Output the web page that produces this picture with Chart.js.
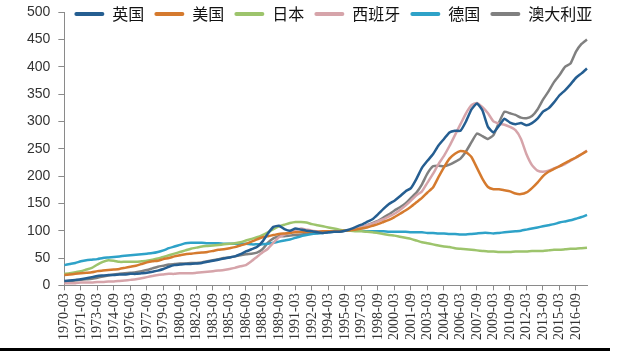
<!DOCTYPE html>
<html><head><meta charset="utf-8">
<script src="https://cdn.jsdelivr.net/npm/chart.js@4"></script>
<style>
html,body{margin:0;padding:0;background:#fff;}
#wrap{position:relative;width:627px;height:351px;overflow:hidden;}
#bar{position:absolute;left:0;top:348px;width:610px;height:3px;background:#000;}
#pre{position:absolute;left:-999px;top:0;}
</style></head><body>
<div id="pre"><span style="font-family:'Liberation Serif'">1970-03</span><span style="font-family:'Liberation Sans'">500</span><span style="font-family:'Noto Sans CJK SC'">英国</span></div>
<div id="wrap"><canvas id="c" width="627" height="351"></canvas><div id="bar"></div></div>
<script>
const categories = [
'1970-03','1970-09','1971-03','1971-09','1972-03','1972-09','1973-03','1973-09','1974-03','1974-09',
'1975-03','1975-09','1976-03','1976-09','1977-03','1977-09','1978-03','1978-09','1979-03','1979-09',
'1980-03','1980-09','1981-03','1981-09','1982-03','1982-09','1983-03','1983-09','1984-03','1984-09',
'1985-03','1985-09','1986-03','1986-09','1987-03','1987-09','1988-03','1988-09','1989-03','1989-09',
'1990-03','1990-09','1991-03','1991-09','1992-03','1992-09','1993-03','1993-09','1994-03','1994-09',
'1995-03','1995-09','1996-03','1996-09','1997-03','1997-09','1998-03','1998-09','1999-03','1999-09',
'2000-03','2000-09','2001-03','2001-09','2002-03','2002-09','2003-03','2003-09','2004-03','2004-09',
'2005-03','2005-09','2006-03','2006-09','2007-03','2007-09','2008-03','2008-09','2009-03','2009-09',
'2010-03','2010-09','2011-03','2011-09','2012-03','2012-09','2013-03','2013-09','2014-03','2014-09',
'2015-03','2015-09','2016-03','2016-09','2017-03','2017-09'];

const tickLabels = ['1970-03','1971-09','1973-03','1974-09','1976-03','1977-09','1979-03','1980-09',
'1982-03','1983-09','1985-03','1986-09','1988-03','1989-09','1991-03','1992-09','1994-03','1995-09',
'1997-03','1998-09','2000-03','2001-09','2003-03','2004-09','2006-03','2007-09','2009-03','2010-09',
'2012-03','2013-09','2015-03','2016-09'];

const seriesNames = ['英国','美国','日本','西班牙','德国','澳大利亚'];

const uk = [8,9,10,11,13,15,17,18,19,19,
20,20,21,21,22,23,25,27,30,34,
37,38,39,39,40,41,43,45,47,49,
51,53,57,62,66,70,80,95,107,109,
103,100,104,102,100,99,97,96,97,98,
98,100,103,107,111,116,121,130,140,149,
155,163,172,178,195,215,228,240,256,268,
280,283,283,300,322,333,320,290,280,292,
305,298,295,297,293,297,305,318,324,335,
348,357,368,380,388,397];

const us = [19,20,21,22,23,24,26,27,28,29,
30,32,34,36,39,42,44,45,48,50,
53,55,57,58,59,60,61,63,65,66,
68,70,73,76,80,84,88,90,92,94,
95,96,97,98,98,98,98,99,99,99,
99,100,101,102,104,106,109,112,116,120,
125,131,137,144,152,160,170,179,198,216,
232,241,246,244,235,215,195,180,176,176,
174,172,168,167,170,178,188,200,208,213,
218,224,229,234,240,246];

const japan = [21,22,24,26,29,32,38,43,46,45,
43,43,43,43,44,45,47,49,52,55,
58,61,64,67,69,71,72,73,74,75,
76,77,79,82,85,88,92,97,103,108,
111,114,116,116,115,112,110,108,106,104,
102,100,100,99,99,98,97,96,94,92,
91,89,87,85,82,79,77,75,73,71,
70,68,67,66,65,64,63,62,62,61,
61,61,62,62,62,63,63,63,64,65,
65,66,67,67,68,69];

const spain = [4,4,4,5,5,5,6,6,7,7,
8,9,10,11,13,15,17,19,20,21,
21,22,22,22,23,24,25,26,27,28,
30,32,35,37,44,52,60,67,78,88,
93,97,101,104,102,100,99,98,98,99,
99,100,101,103,106,110,113,117,121,126,
131,138,146,155,165,172,188,204,222,237,
255,275,295,315,330,334,326,315,300,296,
294,290,284,268,240,220,210,208,210,214,
218,222,228,234,240,247];

const germany = [37,39,41,44,46,47,48,50,51,52,
53,54,55,56,57,58,59,61,64,68,
71,74,77,78,78,78,77,77,77,76,
76,76,76,76,75,75,75,76,78,80,
82,84,87,90,92,94,95,96,97,98,
99,100,100,100,100,99,99,99,99,98,
98,98,98,97,97,97,96,96,95,95,
94,94,93,93,94,95,96,96,95,96,
97,98,99,100,102,104,106,108,110,112,
115,117,119,122,125,129];

const australia = [7,8,9,10,11,12,14,16,18,20,
21,22,23,24,26,28,31,34,36,38,
39,40,40,41,41,42,44,46,48,50,
51,53,55,57,58,60,66,78,86,90,
90,91,92,93,94,95,96,97,98,98,
99,100,101,103,106,110,114,118,124,130,
137,143,150,160,170,185,205,218,219,218,
221,226,232,245,262,278,273,268,275,298,
318,315,312,307,306,310,322,340,355,372,
385,400,406,428,442,450];

const colors = ['#255E91','#D57A2E','#9DC46C','#D6A4AA','#2EA2C8','#808080'];
const seriesData = [uk, us, japan, spain, germany, australia];

const datasets = seriesNames.map((name, k) => ({
  label: name,
  data: seriesData[k],
  borderColor: colors[k],
  backgroundColor: colors[k],
  borderWidth: 2.5,
  pointRadius: 0,
  pointHoverRadius: 0,
  pointBorderWidth: 0,
  tension: 0.15,
  fill: false
}));

const legendMove = {
  id: 'legendMove',
  afterLayout(chart) {
    const lg = chart.legend;
    if (!lg) return;
    lg.isHorizontal = () => true;
    lg.update(2000, 200, {left: 0, top: 0, right: 0, bottom: 0});
    lg.left = chart.chartArea.left;
    lg.right = 2000;
    lg.top = -4;
    lg.bottom = lg.top + lg.height;
  }
};

new Chart(document.getElementById('c'), {
  type: 'line',
  data: { labels: categories, datasets },
  plugins: [legendMove],
  options: {
    responsive: false,
    animation: false,
    devicePixelRatio: 1,
    layout: { padding: { left: 19, right: 40, top: 9, bottom: 8 } },
    plugins: {
      tooltip: { enabled: false },
      legend: {
        position: 'chartArea',
        align: 'start',
        labels: {
          boxWidth: 30,
          boxHeight: 4,
          padding: 10,
          color: '#111',
          font: { family: '"Noto Sans CJK SC"', size: 16 },
          generateLabels(chart) {
            const items = Chart.defaults.plugins.legend.labels.generateLabels(chart);
            return items.map(it => Object.assign(it, { fillStyle: colors[it.datasetIndex], lineWidth: 0, borderRadius: 2 }));
          }
        }
      }
    },
    scales: {
      x: {
        type: 'category',
        offset: false,
        grid: {
          drawOnChartArea: false,
          drawTicks: true,
          tickLength: 5,
          tickColor: (ctx) => (tickLabels.includes(categories[ctx.index]) ? '#8a8a8a' : 'rgba(0,0,0,0)')
        },
        border: { color: '#8a8a8a', width: 1 },
        ticks: {
          autoSkip: false,
          minRotation: 90,
          maxRotation: 90,
          padding: 3,
          color: '#333',
          font: { family: '"Liberation Serif", "Times New Roman", serif', size: 14 },
          callback(value, index) {
            const lab = categories[index];
            return tickLabels.includes(lab) ? lab : '';
          }
        }
      },
      y: {
        min: 0,
        max: 500,
        grid: { drawOnChartArea: false, drawTicks: true, tickLength: 6, color: '#8a8a8a' },
        border: { color: '#8a8a8a', width: 1 },
        ticks: {
          stepSize: 50,
          padding: 8,
          color: '#333',
          font: { family: '"Liberation Sans"', size: 14, lineHeight: 0.6 }
        }
      }
    }
  }
});
</script>
</body></html>
